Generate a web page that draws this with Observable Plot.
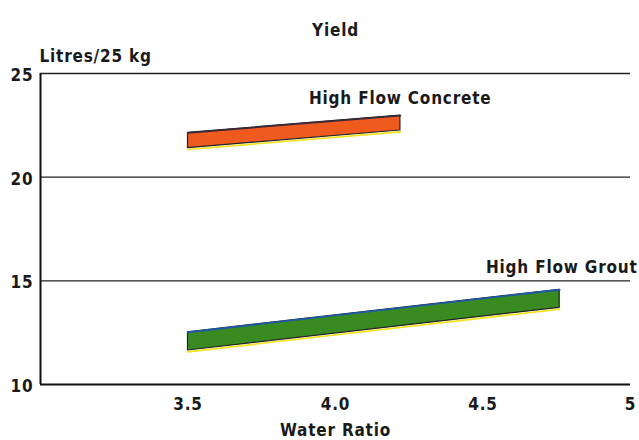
<!DOCTYPE html>
<html>
<head>
<meta charset="utf-8">
<script src="https://cdn.jsdelivr.net/npm/d3@7"></script>
<script src="https://cdn.jsdelivr.net/npm/@observablehq/plot@0.6"></script>
<style>
  html, body { margin: 0; padding: 0; background: #fff; }
  #chart svg text {
    font-family: "DejaVu Sans Condensed", "Liberation Sans Narrow", "Liberation Sans", sans-serif;
    font-stretch: condensed;
    font-weight: bold;
    font-size: 17px;
    letter-spacing: 0.8px;
    fill: #1a1a1a;
  }
</style>
</head>
<body>
<div id="chart"></div>
<script>
// ---- data ----
const seriesNames = ["High Flow Concrete", "High Flow Grout"];
const waterRatio = [[3.5, 4.22], [3.5, 4.76]];          // start / end of each band
const yieldLower = [[21.40, 22.25], [11.64, 13.70]];    // lower edge values
const yieldUpper = [[22.14, 22.97], [12.52, 14.57]];    // upper edge values
const fillColors = ["#ef5a1f", "#3a8a22"];
const topEdgeColors = ["#3a2a3a", "#1d5aa6"];
const labelAt = [[3.91, 23.55], [4.51, 15.4]];          // label anchor (x, y) in data units
const xTicks = [3.5, 4.0, 4.5, 5];
const xTickLabels = ["3.5", "4.0", "4.5", "5"];
const yTicks = [10, 15, 20, 25];
const gridValues = [15, 20, 25];

// build tables
const bands = [];
seriesNames.forEach((s, i) => {
  waterRatio[i].forEach((x, j) => {
    bands.push({series: s, x, y1: yieldLower[i][j], y2: yieldUpper[i][j]});
  });
});
const labels = seriesNames.map((s, i) => ({series: s, x: labelAt[i][0], y: labelAt[i][1]}));

const chart = Plot.plot({
  width: 639,
  height: 440,
  marginLeft: 40,
  marginRight: 9,
  marginTop: 73,
  marginBottom: 56,
  x: {domain: [3, 5], label: null},
  y: {domain: [10, 25], label: null},
  marks: [
    Plot.ruleY(gridValues, {stroke: "#222", strokeWidth: 1.4}),
    Plot.ruleY([10], {stroke: "#111", strokeWidth: 2}),
    Plot.ruleX([3], {stroke: "#111", strokeWidth: 2}),
    Plot.axisX({ticks: xTicks, tickSize: 0, tickPadding: 13,
      tickFormat: d => xTickLabels[xTicks.indexOf(d)], label: null}),
    Plot.axisY({ticks: yTicks, tickSize: 0, tickPadding: 7, dy: 2, label: null}),
    Plot.areaY(bands, {x: "x", y1: "y1", y2: "y2", z: "series",
      fill: d => fillColors[seriesNames.indexOf(d.series)],
      stroke: "#222", strokeWidth: 1.2, curve: "linear"}),
    Plot.line(bands, {x: "x", y: "y1", z: "series", stroke: "#f2e21a", strokeWidth: 1.6, dy: 1.4}),
    Plot.line(bands, {x: "x", y: "y2", z: "series",
      stroke: d => topEdgeColors[seriesNames.indexOf(d.series)], strokeWidth: 1.8}),
    Plot.text(labels, {x: "x", y: "y", text: "series", textAnchor: "start", lineAnchor: "bottom"}),
    Plot.text(["Yield"], {frameAnchor: "top", dy: -38, lineAnchor: "bottom"}),
    Plot.text(["Litres/25 kg"], {frameAnchor: "top-left", dy: -12, dx: -1, textAnchor: "start", lineAnchor: "bottom"}),
    Plot.text(["Water Ratio"], {frameAnchor: "bottom", dy: 46, lineAnchor: "middle"})
  ]
});
document.getElementById("chart").appendChild(chart);
</script>
</body>
</html>
